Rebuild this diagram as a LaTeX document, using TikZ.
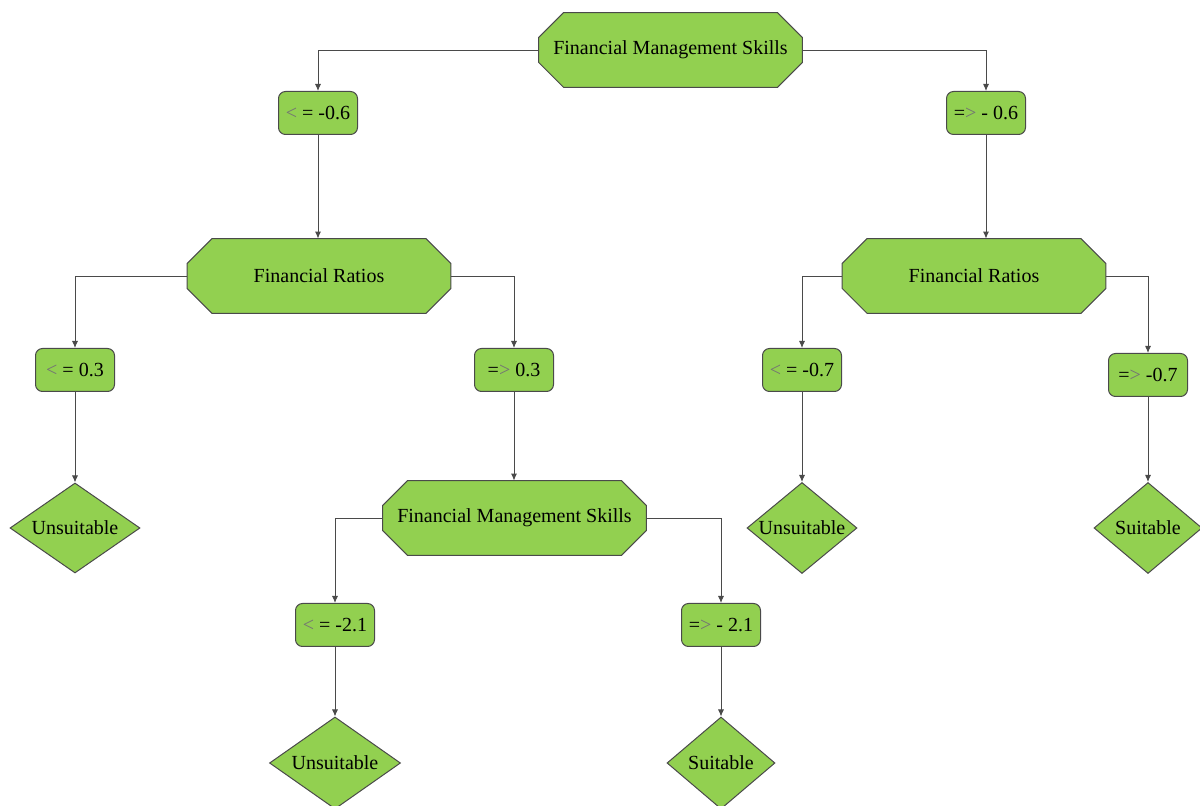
\documentclass[tikz,border=0pt]{standalone}
\usepackage{fontspec}
\setmainfont{Liberation Serif}
\newfontfamily\tms{Liberation Serif}
\usetikzlibrary{shapes.geometric,arrows.meta,backgrounds}
\definecolor{leaf}{HTML}{92D050}
\definecolor{edge}{HTML}{4A4A4A}
\newcommand{\lt}{\textcolor{black!55}{<}}
\newcommand{\gtr}{\textcolor{black!55}{>}}
\tikzset{
  octo/.style={rectangle, inner sep=0pt, minimum width=131.5pt, minimum height=37pt, font=\tms\fontsize{10}{12}\selectfont},
  octline/.style={draw=edge, line width=0.5pt, fill=leaf, line join=miter},
  cond/.style={rectangle, rounded corners=3.5pt, draw=edge, line width=0.5pt, fill=leaf, inner sep=0pt,
    minimum width=39.5pt, minimum height=21.5pt, font=\tms\fontsize{10}{12}\selectfont},
  leafd/.style={diamond, draw=edge, line width=0.5pt, fill=leaf, inner sep=0pt, font=\tms\fontsize{10}{12}\selectfont},
  arr/.style={draw=edge, line width=0.45pt, -{Latex[length=3.5pt,width=3pt]}}
}
\newcommand{\octpath}[1]{%
  \filldraw[octline] ([xshift=12.5pt]#1.north west) -- ([xshift=-12.5pt]#1.north east)
    -- ([yshift=-12.5pt]#1.north east) -- ([yshift=12.5pt]#1.south east)
    -- ([xshift=-12.5pt]#1.south east) -- ([xshift=12.5pt]#1.south west)
    -- ([yshift=12.5pt]#1.south west) -- ([yshift=-12.5pt]#1.north west) -- cycle;}
\begin{document}
\begin{tikzpicture}[x=0.5pt,y=-0.5pt]
\useasboundingbox (0,0) rectangle (1200,806);
% octagons (text nodes; outlines drawn on background layer)
\node[octo] (o1) at (670.5,50) {Financial Management Skills};
\node[octo] (o2) at (319,276) {Financial Ratios};
\node[octo] (o3) at (974,276) {Financial Ratios};
\node[octo] (o4) at (514.5,518) {Financial Management Skills};
\begin{pgfonlayer}{background}
\fill[white] (0,0) rectangle (1200,806);
\octpath{o1}
\octpath{o2}
\octpath{o3}
\octpath{o4}
\end{pgfonlayer}
% condition boxes
\node[cond] (b1) at (318,113) {\lt{} = -0.6};
\node[cond] (b2) at (986,113) {=\gtr{} - 0.6};
\node[cond] (b3) at (75,370) {\lt{} = 0.3};
\node[cond] (b4) at (514,370) {=\gtr{} 0.3};
\node[cond] (b5) at (802,370) {\lt{} = -0.7};
\node[cond] (b6) at (1148,375) {=\gtr{} -0.7};
\node[cond] (b7) at (335,625) {\lt{} = -2.1};
\node[cond] (b8) at (721,625) {=\gtr{} - 2.1};
% diamonds
\node[leafd, aspect=1.44, minimum width=65pt, minimum height=45pt] (d1) at (75,528) {Unsuitable};
\node[leafd, aspect=1.42, minimum width=65.5pt, minimum height=46pt] (d2) at (335,763) {Unsuitable};
\node[leafd, aspect=1.17, minimum width=54pt, minimum height=46pt] (d3) at (721,763) {Suitable};
\node[leafd, aspect=1.21, minimum width=55pt, minimum height=45.5pt] (d4) at (802,528) {Unsuitable};
\node[leafd, aspect=1.19, minimum width=54pt, minimum height=45.5pt] (d5) at (1148,528) {Suitable};
% connectors
\draw[arr] (o1.west) -| (b1.north);
\draw[arr] (o1.east) -| (b2.north);
\draw[arr] (b1.south) -- (b1.south |- o2.north);
\draw[arr] (b2.south) -- (b2.south |- o3.north);
\draw[arr] (o2.west) -| (b3.north);
\draw[arr] (o2.east) -| (b4.north);
\draw[arr] (b3.south) -- (b3.south |- d1.north);
\draw[arr] (b4.south) -- (b4.south |- o4.north);
\draw[arr] (o4.west) -| (b7.north);
\draw[arr] (o4.east) -| (b8.north);
\draw[arr] (b7.south) -- (b7.south |- d2.north);
\draw[arr] (b8.south) -- (b8.south |- d3.north);
\draw[arr] (o3.west) -| (b5.north);
\draw[arr] (o3.east) -| (b6.north);
\draw[arr] (b5.south) -- (b5.south |- d4.north);
\draw[arr] (b6.south) -- (b6.south |- d5.north);
\end{tikzpicture}
\end{document}
